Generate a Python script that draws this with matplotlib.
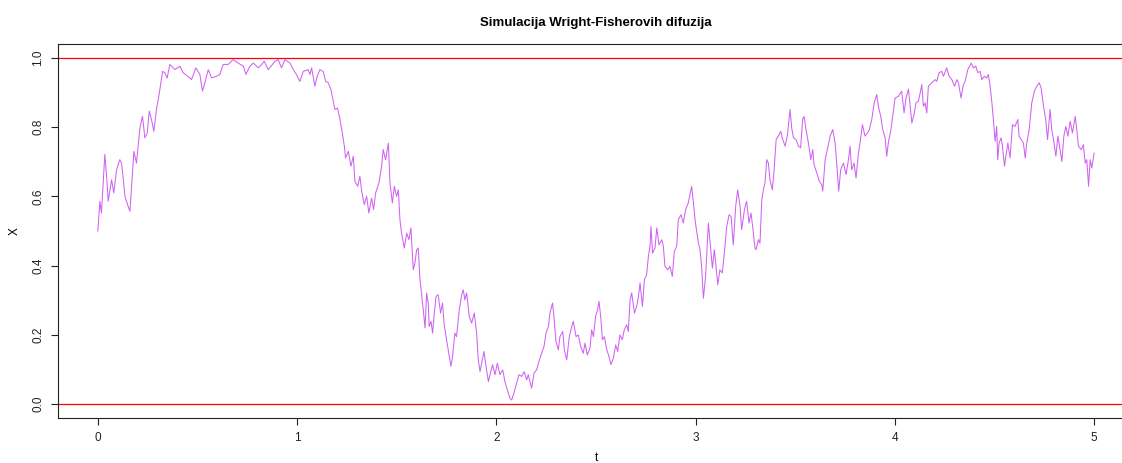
import matplotlib
matplotlib.use("Agg")
import matplotlib.pyplot as plt

plt.rcParams['font.family'] = ['Liberation Sans', 'DejaVu Sans']

title = "Simulacija Wright-Fisherovih difuzija"
xlabel = "t"
ylabel = "X"
xticks = [0, 1, 2, 3, 4, 5]
yticks = [0.0, 0.2, 0.4, 0.6, 0.8, 1.0]
boundaries = [0.0, 1.0]

t = [0.000, 0.010, 0.018, 0.035, 0.044, 0.052, 0.069, 0.080, 0.094, 0.110, 0.119, 0.127, 0.136, 0.152, 0.161,
     0.174, 0.181, 0.194, 0.202, 0.211, 0.224, 0.236, 0.248, 0.258, 0.269, 0.281, 0.295, 0.303, 0.311, 0.325,
     0.336, 0.348, 0.361, 0.387, 0.412, 0.428, 0.462, 0.470, 0.492, 0.512, 0.525, 0.537, 0.554, 0.571, 0.596,
     0.612, 0.629, 0.654, 0.679, 0.704, 0.730, 0.743, 0.763, 0.780, 0.805, 0.822, 0.835, 0.855, 0.889, 0.905,
     0.922, 0.939, 0.964, 0.981, 0.997, 1.014, 1.031, 1.056, 1.064, 1.073, 1.089, 1.098, 1.114, 1.131, 1.143,
     1.156, 1.170, 1.181, 1.190, 1.203, 1.215, 1.227, 1.237, 1.243, 1.257, 1.270, 1.282, 1.290, 1.304, 1.315,
     1.324, 1.337, 1.349, 1.360, 1.374, 1.384, 1.394, 1.411, 1.424, 1.432, 1.444, 1.458, 1.466, 1.478, 1.488,
     1.499, 1.508, 1.516, 1.524, 1.538, 1.550, 1.561, 1.571, 1.583, 1.591, 1.600, 1.608, 1.616, 1.633, 1.642,
     1.650, 1.658, 1.663, 1.672, 1.680, 1.687, 1.697, 1.708, 1.720, 1.730, 1.737, 1.750, 1.764, 1.772, 1.780,
     1.792, 1.800, 1.814, 1.826, 1.834, 1.842, 1.851, 1.864, 1.876, 1.889, 1.901, 1.909, 1.918, 1.926, 1.938,
     1.948, 1.960, 1.968, 1.981, 1.993, 2.005, 2.018, 2.032, 2.043, 2.055, 2.068, 2.077, 2.088, 2.102, 2.113,
     2.127, 2.139, 2.152, 2.160, 2.177, 2.189, 2.202, 2.216, 2.227, 2.239, 2.249, 2.261, 2.269, 2.282, 2.289,
     2.299, 2.311, 2.319, 2.333, 2.341, 2.353, 2.366, 2.378, 2.386, 2.400, 2.411, 2.423, 2.436, 2.445, 2.456,
     2.470, 2.478, 2.487, 2.498, 2.508, 2.515, 2.525, 2.532, 2.542, 2.554, 2.565, 2.575, 2.587, 2.599, 2.609,
     2.620, 2.632, 2.642, 2.654, 2.662, 2.671, 2.679, 2.693, 2.704, 2.713, 2.721, 2.733, 2.743, 2.754, 2.763,
     2.771, 2.776, 2.784, 2.796, 2.805, 2.816, 2.830, 2.838, 2.846, 2.860, 2.871, 2.883, 2.893, 2.905, 2.913,
     2.927, 2.938, 2.950, 2.963, 2.980, 2.989, 2.998, 3.014, 3.022, 3.030, 3.039, 3.050, 3.064, 3.076, 3.084,
     3.094, 3.101, 3.111, 3.122, 3.134, 3.144, 3.156, 3.168, 3.178, 3.189, 3.201, 3.211, 3.223, 3.231, 3.245,
     3.256, 3.268, 3.278, 3.290, 3.298, 3.303, 3.315, 3.323, 3.332, 3.340, 3.348, 3.357, 3.365, 3.373, 3.385,
     3.394, 3.404, 3.415, 3.427, 3.437, 3.449, 3.460, 3.474, 3.482, 3.491, 3.504, 3.516, 3.527, 3.537, 3.544,
     3.554, 3.566, 3.578, 3.588, 3.594, 3.608, 3.621, 3.633, 3.638, 3.650, 3.661, 3.675, 3.688, 3.700, 3.708,
     3.718, 3.728, 3.742, 3.755, 3.767, 3.775, 3.783, 3.795, 3.805, 3.817, 3.825, 3.837, 3.850, 3.862, 3.872,
     3.884, 3.896, 3.909, 3.917, 3.929, 3.939, 3.951, 3.959, 3.968, 3.979, 3.989, 4.001, 4.018, 4.034, 4.046,
     4.056, 4.068, 4.076, 4.085, 4.096, 4.106, 4.118, 4.127, 4.135, 4.143, 4.152, 4.160, 4.168, 4.185, 4.202,
     4.210, 4.222, 4.235, 4.244, 4.260, 4.272, 4.286, 4.299, 4.311, 4.319, 4.332, 4.344, 4.352, 4.366, 4.383,
     4.394, 4.406, 4.416, 4.428, 4.436, 4.449, 4.461, 4.469, 4.478, 4.486, 4.495, 4.503, 4.511, 4.516, 4.523,
     4.533, 4.540, 4.550, 4.557, 4.567, 4.578, 4.590, 4.603, 4.617, 4.623, 4.634, 4.645, 4.654, 4.662, 4.674,
     4.687, 4.700, 4.712, 4.724, 4.734, 4.746, 4.757, 4.766, 4.779, 4.787, 4.796, 4.808, 4.818, 4.829, 4.838,
     4.848, 4.858, 4.868, 4.880, 4.891, 4.905, 4.913, 4.921, 4.935, 4.946, 4.955, 4.963, 4.972, 4.980, 4.988,
     5.000]

X = [0.500, 0.586, 0.552, 0.721, 0.658, 0.586, 0.648, 0.610, 0.677, 0.706, 0.696, 0.653, 0.600, 0.571, 0.557,
     0.668, 0.730, 0.696, 0.745, 0.798, 0.831, 0.769, 0.783, 0.846, 0.822, 0.788, 0.855, 0.879, 0.908, 0.961,
     0.957, 0.942, 0.981, 0.966, 0.976, 0.957, 0.942, 0.937, 0.971, 0.952, 0.904, 0.928, 0.966, 0.942, 0.947,
     0.952, 0.981, 0.981, 0.995, 0.985, 0.976, 0.952, 0.976, 0.985, 0.971, 0.981, 0.990, 0.966, 0.990, 0.995,
     0.971, 0.995, 0.985, 0.966, 0.952, 0.932, 0.961, 0.966, 0.952, 0.971, 0.918, 0.942, 0.966, 0.961, 0.932,
     0.928, 0.908, 0.875, 0.851, 0.855, 0.822, 0.783, 0.745, 0.711, 0.730, 0.687, 0.716, 0.643, 0.629, 0.658,
     0.615, 0.576, 0.600, 0.552, 0.595, 0.562, 0.610, 0.639, 0.687, 0.735, 0.706, 0.754, 0.639, 0.581, 0.629,
     0.600, 0.619, 0.533, 0.494, 0.451, 0.494, 0.475, 0.509, 0.388, 0.407, 0.446, 0.451, 0.364, 0.273, 0.220,
     0.321, 0.292, 0.224, 0.239, 0.205, 0.253, 0.311, 0.316, 0.263, 0.292, 0.234, 0.186, 0.138, 0.109, 0.138,
     0.205, 0.195, 0.273, 0.316, 0.330, 0.301, 0.321, 0.253, 0.234, 0.263, 0.205, 0.128, 0.094, 0.118, 0.152,
     0.109, 0.065, 0.085, 0.114, 0.085, 0.118, 0.085, 0.099, 0.065, 0.041, 0.017, 0.012, 0.032, 0.061, 0.085,
     0.080, 0.094, 0.070, 0.085, 0.046, 0.090, 0.099, 0.128, 0.147, 0.167, 0.205, 0.224, 0.263, 0.292, 0.253,
     0.181, 0.157, 0.195, 0.210, 0.157, 0.128, 0.195, 0.224, 0.239, 0.195, 0.200, 0.167, 0.147, 0.176, 0.142,
     0.162, 0.215, 0.195, 0.253, 0.273, 0.297, 0.244, 0.186, 0.195, 0.157, 0.138, 0.114, 0.133, 0.171, 0.152,
     0.200, 0.186, 0.215, 0.229, 0.210, 0.301, 0.321, 0.263, 0.282, 0.311, 0.350, 0.282, 0.359, 0.374, 0.427,
     0.456, 0.513, 0.436, 0.451, 0.509, 0.460, 0.475, 0.456, 0.398, 0.388, 0.398, 0.369, 0.441, 0.456, 0.533,
     0.547, 0.523, 0.562, 0.581, 0.629, 0.581, 0.528, 0.465, 0.446, 0.398, 0.306, 0.369, 0.523, 0.446, 0.393,
     0.446, 0.403, 0.345, 0.388, 0.379, 0.436, 0.513, 0.547, 0.542, 0.460, 0.571, 0.619, 0.571, 0.504, 0.562,
     0.586, 0.523, 0.552, 0.494, 0.451, 0.446, 0.475, 0.465, 0.590, 0.619, 0.639, 0.706, 0.696, 0.648, 0.619,
     0.677, 0.764, 0.774, 0.788, 0.764, 0.745, 0.774, 0.851, 0.798, 0.769, 0.764, 0.745, 0.740, 0.822, 0.831,
     0.793, 0.754, 0.706, 0.735, 0.692, 0.668, 0.643, 0.634, 0.615, 0.706, 0.735, 0.774, 0.793, 0.754, 0.696,
     0.615, 0.677, 0.696, 0.663, 0.706, 0.745, 0.677, 0.696, 0.653, 0.725, 0.754, 0.807, 0.774, 0.783, 0.793,
     0.822, 0.870, 0.894, 0.860, 0.831, 0.793, 0.769, 0.716, 0.759, 0.788, 0.831, 0.884, 0.889, 0.904, 0.841,
     0.884, 0.910, 0.865, 0.812, 0.836, 0.870, 0.875, 0.899, 0.923, 0.860, 0.870, 0.841, 0.918, 0.928, 0.937,
     0.932, 0.957, 0.961, 0.947, 0.971, 0.947, 0.937, 0.918, 0.937, 0.928, 0.884, 0.923, 0.932, 0.966, 0.985,
     0.971, 0.976, 0.957, 0.961, 0.937, 0.947, 0.942, 0.952, 0.918, 0.875, 0.817, 0.759, 0.802, 0.706, 0.754,
     0.769, 0.745, 0.687, 0.716, 0.754, 0.711, 0.807, 0.802, 0.822, 0.774, 0.764, 0.754, 0.711, 0.754, 0.793,
     0.870, 0.904, 0.918, 0.928, 0.913, 0.860, 0.822, 0.764, 0.851, 0.793, 0.764, 0.716, 0.774, 0.735, 0.701,
     0.774, 0.802, 0.774, 0.817, 0.783, 0.831, 0.793, 0.745, 0.735, 0.749, 0.696, 0.706, 0.629, 0.706, 0.682,
     0.725]

W, H = 1122, 463
fig = plt.figure(figsize=(W / 100, H / 100), dpi=100)
ax = fig.add_axes([58 / W, 45 / H, (1134 - 58) / W, (418 - 44) / H])

ax.plot(t, X, color='#D062F2', linewidth=0.75)
for b in boundaries:
    ax.axhline(b, color='#FF0000', linewidth=0.9)

ax.set_xlim(-0.2, 5.2)
ax.set_ylim(-0.04, 1.04)
ax.set_xticks(xticks)
ax.set_xticklabels([str(v) for v in xticks])
ax.set_yticks(yticks)
ax.set_yticklabels([f"{v:.1f}" for v in yticks], rotation=90, va='center')

for s in ax.spines.values():
    s.set_linewidth(0.8)
    s.set_color('#222222')
ax.tick_params(direction='out', length=5, width=0.8, color='#222222', labelsize=8.5,
               labelcolor='#222222', pad=5)

ax.set_title(title, fontsize=9.5, fontweight='bold', pad=13)
ax.set_xlabel(xlabel, fontsize=8.5, labelpad=6)
ax.set_ylabel(ylabel, fontsize=8.5, labelpad=8)

fig.savefig("out.png", dpi=100)
